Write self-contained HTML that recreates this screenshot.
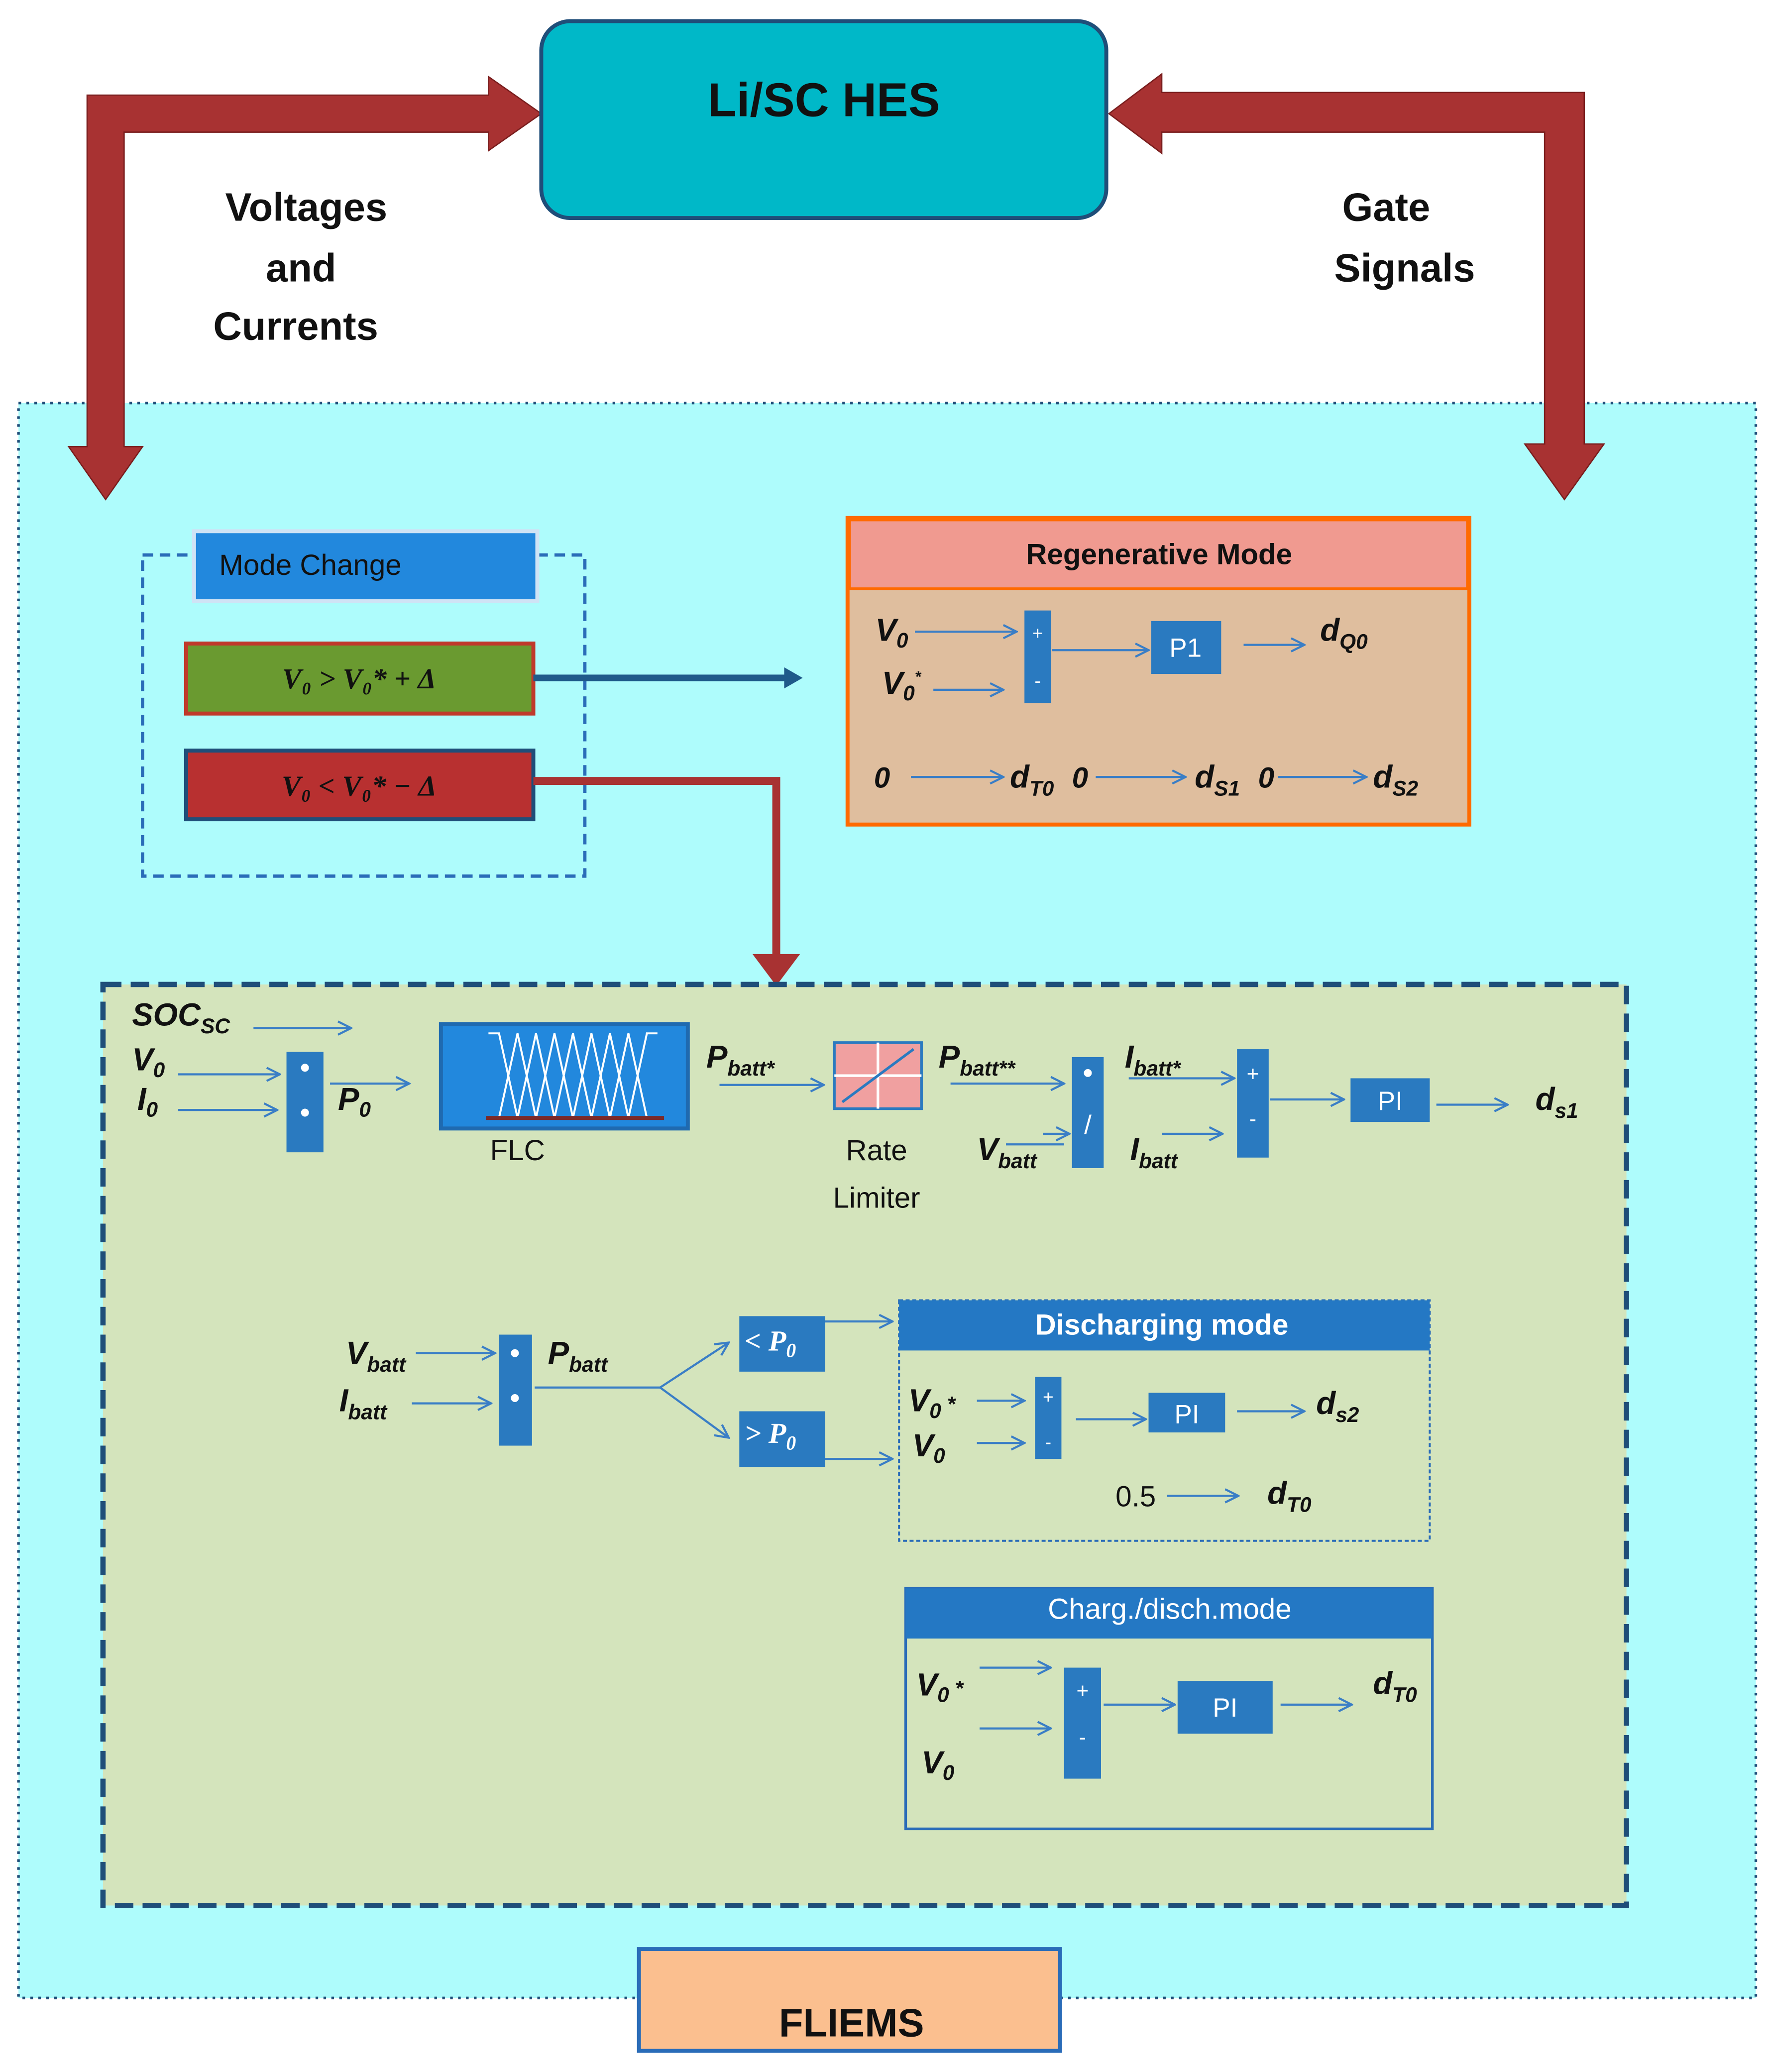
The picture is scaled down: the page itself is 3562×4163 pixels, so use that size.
<!DOCTYPE html>
<html><head><meta charset="utf-8"><style>
html,body{margin:0;padding:0;background:#fff}
svg{display:block}
text{font-family:"Liberation Sans",sans-serif}
.m{font-family:"Liberation Serif",serif;font-style:italic;font-weight:bold;fill:#111}
.w{fill:#fff}
</style></head><body>
<svg width="3562" height="4163" viewBox="0 0 1343 1568" preserveAspectRatio="none" xmlns="http://www.w3.org/2000/svg">
<defs>
<marker id="a" viewBox="0 0 12 12" refX="11" refY="6" markerWidth="12" markerHeight="12" markerUnits="userSpaceOnUse" orient="auto">
<path d="M1 1 L11 6 L1 11" fill="none" stroke="#3a7ec6" stroke-width="1.6"/></marker>
</defs>
<rect width="1343" height="1568" fill="#fff"/>
<!-- cyan background -->
<rect x="14" y="305" width="1316" height="1207" fill="#aefcfc" stroke="#1f4e79" stroke-width="2" stroke-dasharray="2,4"/>
<!-- red arrows -->
<g fill="#a83232" stroke="#7a1e1e" stroke-width="1">
<polygon points="66,72 370,72 370,58 410,86 370,114 370,100 94,100 94,338 108,338 80,378 52,338 66,338"/>
<polygon points="1200,70 880,70 880,56 840,86 880,116 880,100 1170,100 1170,336 1155,336 1185,378 1215,336 1200,336"/>
</g>
<rect x="410" y="16" width="428" height="149" rx="22" fill="#00b8c8" stroke="#1f4e79" stroke-width="3"/>
<text x="624" y="88" font-size="36" font-weight="bold" text-anchor="middle" fill="#111">Li/SC HES</text>
<g font-size="30" font-weight="bold" fill="#111" text-anchor="middle">
<text x="232" y="167">Voltages</text><text x="228" y="213">and</text><text x="224" y="257">Currents</text>
<text x="1050" y="167">Gate</text><text x="1064" y="213">Signals</text></g>
<!-- mode change -->
<rect x="108" y="420" width="335" height="243" fill="none" stroke="#2a6cb8" stroke-width="2.5" stroke-dasharray="8,5"/>
<rect x="147" y="402" width="260" height="53" fill="#2288dd" stroke="#cfe3f5" stroke-width="3"/>
<text x="166" y="435" font-size="22" fill="#111">Mode Change</text>
<rect x="141" y="487" width="263" height="53" fill="#6a9a30" stroke="#c0392b" stroke-width="3"/>
<text x="272" y="521" class="m" font-size="22" text-anchor="middle">V₀ &gt; V₀* + Δ</text>
<rect x="141" y="568" width="263" height="52" fill="#b83030" stroke="#1f4e79" stroke-width="3"/>
<text x="272" y="602" class="m" font-size="22" text-anchor="middle">V₀ &lt; V₀* − Δ</text>
<line x1="404" y1="513" x2="596" y2="513" stroke="#1f5a8a" stroke-width="5"/>
<polygon points="594,505 608,513 594,521" fill="#1f5a8a"/>
<polyline points="404,591 588,591 588,725" fill="none" stroke="#a83232" stroke-width="6"/>
<polygon points="570,722 606,722 588,746" fill="#a83232"/>
<!-- regenerative -->
<rect x="642" y="392" width="471" height="232" fill="#dfbe9e" stroke="#ff6a00" stroke-width="3"/>
<rect x="643.5" y="393.5" width="468" height="52" fill="#f09a90" stroke="#ff6a00" stroke-width="2"/>
<text x="878" y="427" font-size="22" font-weight="bold" text-anchor="middle" fill="#111">Regenerative Mode</text>
<g stroke="#3a7ec6" stroke-width="1.6" marker-end="url(#a)">
<line x1="693" y1="478" x2="770" y2="478"/><line x1="707" y1="522" x2="760" y2="522"/>
<line x1="797" y1="492" x2="870" y2="492"/><line x1="942" y1="488" x2="988" y2="488"/>
<line x1="690" y1="588" x2="760" y2="588"/><line x1="830" y1="588" x2="898" y2="588"/><line x1="968" y1="588" x2="1035" y2="588"/>
</g>
<rect x="776" y="462" width="20" height="70" fill="#2a7ac0"/>
<text x="786" y="484" class="w" font-size="14" text-anchor="middle">+</text><text x="786" y="520" class="w" font-size="14" text-anchor="middle">-</text>
<rect x="872" y="470" width="53" height="40" fill="#2a7ac0"/><text x="898" y="497" class="w" font-size="20" text-anchor="middle">P1</text>
<g class="m" font-size="24">
<text x="663" y="485">V<tspan font-size="16" dy="5">0</tspan></text>
<text x="668" y="525">V<tspan font-size="16" dy="5">0</tspan><tspan font-size="12" dy="-14">*</tspan></text>
<text x="1000" y="485">d<tspan font-size="16" dy="6">Q0</tspan></text>
<text x="662" y="596" font-size="22">0</text><text x="765" y="596">d<tspan font-size="16" dy="6">T0</tspan></text>
<text x="812" y="596" font-size="22">0</text><text x="905" y="596">d<tspan font-size="16" dy="6">S1</tspan></text>
<text x="953" y="596" font-size="22">0</text><text x="1040" y="596">d<tspan font-size="16" dy="6">S2</tspan></text>
</g>
<!-- green box -->
<rect x="78" y="745" width="1154" height="697" fill="#d4e4bc" stroke="#1f4e79" stroke-width="4" stroke-dasharray="14,7"/>
<g stroke="#3a7ec6" stroke-width="1.6" marker-end="url(#a)">
<line x1="192" y1="778" x2="266" y2="778"/>
<line x1="135" y1="813" x2="212" y2="813"/><line x1="135" y1="840" x2="210" y2="840"/>
<line x1="250" y1="820" x2="310" y2="820"/>
<line x1="545" y1="821" x2="624" y2="821"/>
<line x1="720" y1="820" x2="806" y2="820"/><line x1="790" y1="858" x2="810" y2="858"/><line x1="762" y1="866" x2="806" y2="866" marker-end="none"/>
<line x1="855" y1="816" x2="935" y2="816"/><line x1="880" y1="858" x2="926" y2="858"/>
<line x1="962" y1="832" x2="1018" y2="832"/><line x1="1088" y1="836" x2="1142" y2="836"/>
<line x1="315" y1="1024" x2="375" y2="1024"/><line x1="312" y1="1062" x2="372" y2="1062"/>
<line x1="405" y1="1050" x2="500" y2="1050" marker-end="none"/>
<line x1="500" y1="1050" x2="552" y2="1016"/><line x1="500" y1="1050" x2="552" y2="1088"/>
<line x1="625" y1="1000" x2="676" y2="1000"/><line x1="625" y1="1104" x2="676" y2="1104"/>
<line x1="740" y1="1060" x2="776" y2="1060"/><line x1="740" y1="1092" x2="776" y2="1092"/>
<line x1="815" y1="1074" x2="868" y2="1074"/><line x1="937" y1="1068" x2="988" y2="1068"/>
<line x1="884" y1="1132" x2="938" y2="1132"/>
<line x1="742" y1="1262" x2="796" y2="1262"/><line x1="742" y1="1308" x2="796" y2="1308"/>
<line x1="836" y1="1290" x2="890" y2="1290"/><line x1="970" y1="1290" x2="1024" y2="1290"/>
</g>
<rect x="217" y="796" width="28" height="76" fill="#2a7ac0"/>
<circle cx="231" cy="808" r="3" fill="#fff"/><circle cx="231" cy="842" r="3" fill="#fff"/>
<rect x="334" y="775" width="187" height="79" fill="#2288dd" stroke="#1f6ab0" stroke-width="3"/>
<g stroke="#fff" stroke-width="1.5" fill="none">
<polyline points="370,782 378,782 392,846 406,782 420,846 434,782 448,846 462,782 476,846 490,782 498,782"/>
<polyline points="378,846 392,782 406,846 420,782 434,846 448,782 462,846 476,782 490,846"/>
</g>
<line x1="368" y1="846" x2="503" y2="846" stroke="#7a2a2a" stroke-width="3"/>
<text x="392" y="878" font-size="22" text-anchor="middle" fill="#111">FLC</text>
<rect x="632" y="789" width="66" height="50" fill="#f0a0a0" stroke="#2a7ac0" stroke-width="2"/>
<line x1="665" y1="789" x2="665" y2="839" stroke="#fff" stroke-width="2"/><line x1="632" y1="814" x2="698" y2="814" stroke="#fff" stroke-width="2"/>
<line x1="638" y1="834" x2="692" y2="794" stroke="#2a7ac0" stroke-width="2"/>
<text x="664" y="878" font-size="22" text-anchor="middle" fill="#111">Rate</text>
<text x="664" y="914" font-size="22" text-anchor="middle" fill="#111">Limiter</text>
<rect x="812" y="800" width="24" height="84" fill="#2a7ac0"/>
<circle cx="824" cy="812" r="3" fill="#fff"/><text x="824" y="858" class="w" font-size="20" text-anchor="middle">/</text>
<rect x="937" y="794" width="24" height="82" fill="#2a7ac0"/>
<text x="949" y="818" class="w" font-size="16" text-anchor="middle">+</text><text x="949" y="852" class="w" font-size="16" text-anchor="middle">-</text>
<rect x="1023" y="816" width="60" height="33" fill="#2a7ac0"/><text x="1053" y="840" class="w" font-size="20" text-anchor="middle">PI</text>
<rect x="378" y="1010" width="25" height="84" fill="#2a7ac0"/>
<circle cx="390" cy="1024" r="3" fill="#fff"/><circle cx="390" cy="1058" r="3" fill="#fff"/>
<rect x="560" y="996" width="65" height="42" fill="#2a7ac0"/><text x="564" y="1022" class="m w" font-size="22" style="fill:#fff">&lt; P<tspan font-size="15" dy="5">0</tspan></text>
<rect x="560" y="1068" width="65" height="42" fill="#2a7ac0"/><text x="564" y="1092" class="m w" font-size="22" style="fill:#fff">&gt; P<tspan font-size="15" dy="5">0</tspan></text>
<!-- discharging -->
<rect x="681" y="984" width="402" height="182" fill="none" stroke="#2a6cb8" stroke-width="1.5" stroke-dasharray="3,2"/>
<rect x="681" y="984" width="402" height="38" fill="#2478c4"/>
<text x="880" y="1010" class="w" font-size="22" font-weight="bold" text-anchor="middle">Discharging mode</text>
<rect x="784" y="1042" width="20" height="62" fill="#2a7ac0"/>
<text x="794" y="1062" class="w" font-size="14" text-anchor="middle">+</text><text x="794" y="1096" class="w" font-size="14" text-anchor="middle">-</text>
<rect x="870" y="1054" width="58" height="30" fill="#2a7ac0"/><text x="899" y="1077" class="w" font-size="20" text-anchor="middle">PI</text>
<text x="845" y="1140" font-size="22" fill="#111">0.5</text>
<!-- charg -->
<rect x="686" y="1202" width="399" height="182" fill="none" stroke="#2a6cb8" stroke-width="2"/>
<rect x="686" y="1202" width="399" height="38" fill="#2478c4"/>
<text x="886" y="1225" class="w" font-size="22" text-anchor="middle">Charg./disch.mode</text>
<rect x="806" y="1262" width="28" height="84" fill="#2a7ac0"/>
<text x="820" y="1285" class="w" font-size="16" text-anchor="middle">+</text><text x="820" y="1320" class="w" font-size="16" text-anchor="middle">-</text>
<rect x="892" y="1272" width="72" height="40" fill="#2a7ac0"/><text x="928" y="1299" class="w" font-size="20" text-anchor="middle">PI</text>
<g class="m" font-size="24">
<text x="100" y="776">SOC<tspan font-size="16" dy="6">SC</tspan></text>
<text x="100" y="810">V<tspan font-size="16" dy="5">0</tspan></text>
<text x="104" y="840">I<tspan font-size="16" dy="5">0</tspan></text>
<text x="256" y="840">P<tspan font-size="16" dy="5">0</tspan></text>
<text x="535" y="808">P<tspan font-size="16" dy="6">batt*</tspan></text>
<text x="711" y="808">P<tspan font-size="16" dy="6">batt**</tspan></text>
<text x="740" y="878">V<tspan font-size="16" dy="6">batt</tspan></text>
<text x="852" y="808">I<tspan font-size="16" dy="6">batt*</tspan></text>
<text x="856" y="878">I<tspan font-size="16" dy="6">batt</tspan></text>
<text x="1163" y="840">d<tspan font-size="16" dy="6">s1</tspan></text>
<text x="262" y="1032">V<tspan font-size="16" dy="6">batt</tspan></text>
<text x="257" y="1068">I<tspan font-size="16" dy="6">batt</tspan></text>
<text x="415" y="1032">P<tspan font-size="16" dy="6">batt</tspan></text>
<text x="688" y="1068">V<tspan font-size="16" dy="5">0</tspan><tspan font-size="16" dy="-5"> *</tspan></text>
<text x="691" y="1102">V<tspan font-size="16" dy="5">0</tspan></text>
<text x="997" y="1070">d<tspan font-size="16" dy="6">s2</tspan></text>
<text x="960" y="1138">d<tspan font-size="16" dy="6">T0</tspan></text>
<text x="694" y="1283">V<tspan font-size="16" dy="5">0</tspan><tspan font-size="16" dy="-5"> *</tspan></text>
<text x="698" y="1342">V<tspan font-size="16" dy="5">0</tspan></text>
<text x="1040" y="1282">d<tspan font-size="16" dy="6">T0</tspan></text>
</g>
<!-- FLIEMS -->
<rect x="484" y="1475" width="319" height="77" fill="#fbbf8f" stroke="#2a6cb8" stroke-width="3"/>
<text x="645" y="1541" font-size="30" font-weight="bold" text-anchor="middle" fill="#111">FLIEMS</text>
</svg>
</body></html>
